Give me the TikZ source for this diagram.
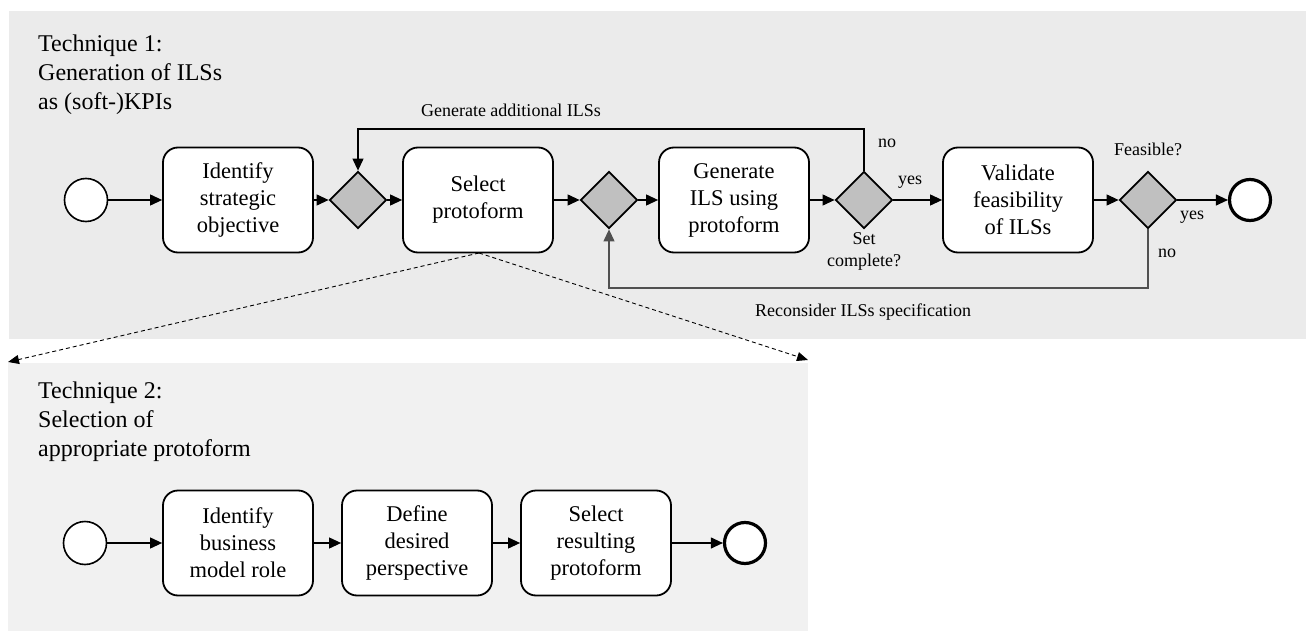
\documentclass[tikz,border=0pt]{standalone}
\usepackage{fontspec}
\setmainfont{Liberation Serif}
\usetikzlibrary{arrows.meta,shapes.geometric}

\definecolor{laneone}{HTML}{EBEBEB}
\definecolor{lanetwo}{HTML}{F1F1F1}
\definecolor{gatefill}{HTML}{C0C0C0}
\definecolor{loopgray}{HTML}{505050}

\tikzset{
  lanetitle/.style={anchor=north west, align=left, inner sep=0pt,
    font=\fontsize{24}{29}\selectfont},
  task/.style={draw, line width=1.8pt, rounded corners=15pt, fill=white,
    minimum width=150pt, minimum height=105pt, align=center, inner sep=2pt,
    font=\fontsize{22.5}{27}\selectfont},
  gate/.style={draw, line width=1.8pt, diamond, fill=gatefill,
    minimum width=57pt, minimum height=57pt, inner sep=0pt},
  startev/.style={draw, circle, line width=1.6pt, fill=white,
    minimum size=43pt, inner sep=0pt},
  endev/.style={draw, circle, line width=3.2pt, fill=white,
    minimum size=41pt, inner sep=0pt},
  flow/.style={line width=1.1pt, -{Triangle[length=12pt,width=11pt]}},
  loopflow/.style={flow, draw=loopgray},
  assoc/.style={line width=0.9pt, dash pattern=on 4pt off 3pt,
    -{Triangle[length=11pt,width=9pt]}},
  lbl/.style={inner sep=0pt, align=center, font=\fontsize{18}{22}\selectfont}
}

\begin{document}
\begin{tikzpicture}[x=1pt,y=-1pt]
  \useasboundingbox (0,0) rectangle (1306,631);

  % lane backgrounds
  \fill[laneone] (9,11) rectangle (1306,339);
  \fill[lanetwo] (8,363) rectangle (808,631);

  % lane titles
  \node[lanetitle] (t1) at (38,35) {Technique 1:\\Generation of ILSs\\as (soft-)KPIs};
  \node[lanetitle] (t2) at (38,382) {Technique 2:\\Selection of\\appropriate protoform};

  % technique 1 process
  \node[startev] (s1) at (86,200) {};
  \node[task] (a1) at (238,200) {Identify\\strategic\\objective};
  \node[gate] (g1) at (358,200) {};
  \node[task] (a2) at (478,200) {Select\\protoform};
  \node[gate] (g2) at (609,200) {};
  \node[task] (a3) at (734,200) {Generate\\ILS using\\protoform};
  \node[gate] (g3) at (864,200) {};
  \node[task] (a4) at (1018,200) {Validate\\feasibility\\of ILSs};
  \node[gate] (g4) at (1148,200) {};
  \node[endev] (e1) at (1250,200) {};

  \draw[flow] (s1) -- (a1);
  \draw[flow] (a1) -- (g1);
  \draw[flow] (g1) -- (a2);
  \draw[flow] (a2) -- (g2);
  \draw[flow] (g2) -- (a3);
  \draw[flow] (a3) -- (g3);
  \draw[flow] (g3) -- (a4);
  \draw[flow] (a4) -- (g4);
  \draw[flow] (g4) -- (e1);

  % loops back
  \draw[flow] (g3.north) -- (864,129) -| (g1.north);
  \draw[loopflow] (g4.south) -- (1148,288) -| (g2.south);

  % flow labels
  \node[lbl] (lgen) at (511,110) {Generate additional ILSs};
  \node[lbl] (lrec) at (863,312) {Reconsider ILSs specification};
  \node[lbl] (lno3) at (887,143) {no};
  \node[lbl] (lyes3) at (910,182) {yes};
  \node[lbl] (lset) at (864,251) {Set\\complete?};
  \node[lbl] (lfeas) at (1148,149) {Feasible?};
  \node[lbl] (lyes4) at (1192,217) {yes};
  \node[lbl] (lno4) at (1167,253) {no};

  % refinement of the select step
  \coordinate (ref) at (479,253);
  \coordinate (refl) at (8,362);
  \coordinate (refr) at (808,360);
  \draw[assoc] (ref) -- (refl);
  \draw[assoc] (ref) -- (refr);

  % technique 2 process
  \node[startev] (s2) at (85,543) {};
  \node[task] (b1) at (238,543) {Identify\\business\\model role};
  \node[task] (b2) at (417,543) {Define\\desired\\perspective};
  \node[task] (b3) at (596,543) {Select\\resulting\\protoform};
  \node[endev] (e2) at (745,543) {};

  \draw[flow] (s2) -- (b1);
  \draw[flow] (b1) -- (b2);
  \draw[flow] (b2) -- (b3);
  \draw[flow] (b3) -- (e2);
\end{tikzpicture}
\end{document}
